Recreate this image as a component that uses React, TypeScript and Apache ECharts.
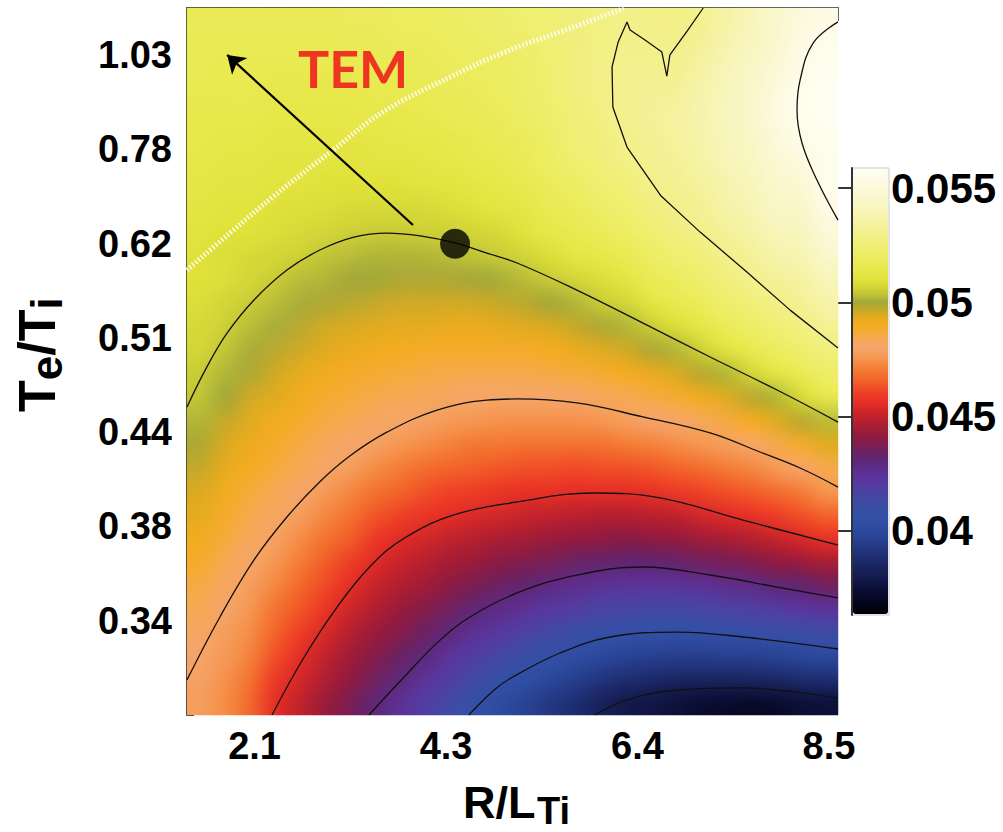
import { useEffect, useRef } from 'react';
import * as echarts from 'echarts';

// Plot coordinates are tick positions: 17 steps across R/L_Ti, 30 steps down Te/Ti.
const X_SPAN = 17;
const Y_SPAN = 30;

const xTickPos = [2, 7, 12, 17];
const xTickText = ['2.1', '4.3', '6.4', '8.5'];
const yTickPos = [2, 6, 10, 14, 18, 22, 26];
const yTickText = ['1.03', '0.78', '0.62', '0.51', '0.44', '0.38', '0.34'];

// Colour bar range and ticks (values in units of 1e-3)
const barMin = 36.32;
const barMax = 55.88;
const barTicks = [40, 45, 50, 55];

// Sampled field, units of 1e-3; 30 rows (top to bottom) x 26 columns (left to right)
const gammaGrid = [
  [51.8, 51.8, 51.8, 51.8, 51.8, 51.8, 51.9, 51.9, 52.0, 52.0, 52.1, 52.2, 52.3, 52.4, 52.5, 52.7, 52.8, 53.0, 52.9, 52.9, 53.1, 53.6, 54.1, 54.6, 55.1, 55.4],
  [51.7, 51.7, 51.7, 51.7, 51.7, 51.7, 51.8, 51.8, 51.9, 51.9, 52.0, 52.1, 52.2, 52.3, 52.5, 52.7, 52.8, 53.0, 53.0, 53.0, 53.3, 53.8, 54.2, 54.7, 55.3, 55.6],
  [51.7, 51.6, 51.6, 51.6, 51.6, 51.6, 51.6, 51.7, 51.7, 51.8, 51.9, 52.0, 52.1, 52.2, 52.4, 52.7, 52.9, 53.1, 53.1, 53.1, 53.5, 54.0, 54.4, 54.9, 55.4, 55.7],
  [51.6, 51.6, 51.6, 51.5, 51.5, 51.5, 51.5, 51.6, 51.6, 51.7, 51.8, 51.9, 52.0, 52.2, 52.4, 52.7, 52.9, 53.1, 53.2, 53.3, 53.7, 54.1, 54.5, 55.1, 55.6, 55.8],
  [51.5, 51.5, 51.5, 51.4, 51.4, 51.4, 51.4, 51.5, 51.5, 51.6, 51.7, 51.8, 51.9, 52.1, 52.3, 52.6, 52.8, 53.1, 53.3, 53.5, 53.8, 54.2, 54.5, 55.2, 55.6, 55.8],
  [51.5, 51.4, 51.4, 51.3, 51.3, 51.3, 51.3, 51.3, 51.4, 51.4, 51.5, 51.6, 51.8, 51.9, 52.2, 52.5, 52.7, 53.0, 53.2, 53.4, 53.7, 54.1, 54.4, 55.0, 55.5, 55.7],
  [51.4, 51.3, 51.3, 51.2, 51.2, 51.2, 51.1, 51.2, 51.2, 51.3, 51.4, 51.5, 51.6, 51.8, 52.1, 52.4, 52.6, 52.9, 53.1, 53.3, 53.6, 54.0, 54.3, 54.8, 55.1, 55.6],
  [51.3, 51.2, 51.2, 51.1, 51.1, 51.0, 51.0, 51.0, 51.0, 51.1, 51.1, 51.3, 51.4, 51.6, 51.9, 52.1, 52.4, 52.6, 53.0, 53.1, 53.4, 53.8, 54.1, 54.6, 54.8, 55.6],
  [51.2, 51.1, 51.1, 51.0, 50.9, 50.9, 50.8, 50.8, 50.8, 50.8, 50.9, 51.0, 51.2, 51.3, 51.7, 51.9, 52.2, 52.4, 52.7, 53.0, 53.2, 53.6, 53.9, 54.4, 54.5, 55.3],
  [51.1, 51.0, 51.0, 50.9, 50.8, 50.7, 50.6, 50.5, 50.5, 50.6, 50.6, 50.7, 50.8, 51.1, 51.4, 51.6, 51.9, 52.1, 52.4, 52.7, 53.0, 53.3, 53.6, 54.1, 54.2, 55.0],
  [51.0, 50.9, 50.8, 50.7, 50.6, 50.4, 50.3, 50.2, 50.2, 50.2, 50.3, 50.4, 50.5, 50.7, 50.9, 51.3, 51.4, 51.7, 52.1, 52.4, 52.6, 53.0, 53.3, 53.7, 53.9, 54.6],
  [51.0, 50.9, 50.7, 50.5, 50.3, 50.2, 50.0, 50.0, 49.9, 49.9, 49.9, 50.0, 50.1, 50.3, 50.5, 50.7, 50.9, 51.2, 51.7, 52.0, 52.3, 52.7, 53.0, 53.3, 53.5, 54.1],
  [50.9, 50.7, 50.5, 50.3, 50.1, 49.9, 49.8, 49.7, 49.6, 49.6, 49.6, 49.6, 49.7, 49.8, 50.0, 50.2, 50.5, 50.7, 51.2, 51.6, 51.9, 52.3, 52.6, 52.9, 53.2, 53.7],
  [50.8, 50.6, 50.3, 50.1, 49.8, 49.6, 49.5, 49.4, 49.3, 49.3, 49.2, 49.2, 49.3, 49.4, 49.5, 49.7, 49.9, 50.2, 50.5, 50.9, 51.3, 51.8, 52.2, 52.5, 52.8, 53.2],
  [50.7, 50.4, 50.1, 49.8, 49.6, 49.4, 49.2, 49.1, 49.0, 48.9, 48.9, 48.9, 48.9, 48.9, 49.0, 49.2, 49.4, 49.6, 49.9, 50.2, 50.6, 51.1, 51.6, 52.0, 52.3, 52.7],
  [50.5, 50.2, 49.9, 49.6, 49.3, 49.1, 48.9, 48.8, 48.7, 48.6, 48.5, 48.5, 48.5, 48.5, 48.6, 48.7, 48.8, 49.0, 49.2, 49.5, 49.8, 50.2, 50.7, 51.2, 51.7, 52.2],
  [50.4, 50.0, 49.6, 49.4, 49.1, 48.8, 48.7, 48.5, 48.4, 48.3, 48.2, 48.1, 48.1, 48.0, 48.1, 48.1, 48.3, 48.4, 48.6, 48.8, 49.1, 49.4, 49.8, 50.2, 50.8, 51.5],
  [50.2, 49.7, 49.4, 49.1, 48.9, 48.6, 48.4, 48.2, 48.1, 47.9, 47.7, 47.6, 47.5, 47.5, 47.5, 47.5, 47.6, 47.8, 48.0, 48.1, 48.3, 48.6, 49.0, 49.4, 49.8, 50.3],
  [49.9, 49.5, 49.2, 48.9, 48.6, 48.3, 48.1, 47.9, 47.6, 47.4, 47.2, 47.0, 47.0, 46.9, 46.9, 46.9, 46.9, 47.1, 47.2, 47.4, 47.6, 47.8, 48.1, 48.5, 48.9, 49.4],
  [49.7, 49.3, 49.0, 48.7, 48.4, 48.1, 47.8, 47.4, 47.1, 46.8, 46.6, 46.5, 46.4, 46.3, 46.3, 46.2, 46.3, 46.3, 46.4, 46.6, 46.8, 47.1, 47.3, 47.7, 48.0, 48.5],
  [49.5, 49.1, 48.7, 48.4, 48.1, 47.7, 47.3, 46.9, 46.6, 46.3, 46.1, 46.0, 45.8, 45.7, 45.7, 45.6, 45.6, 45.6, 45.7, 45.9, 46.1, 46.3, 46.5, 46.8, 47.1, 47.6],
  [49.3, 48.9, 48.5, 48.2, 47.8, 47.3, 46.9, 46.4, 46.1, 45.8, 45.6, 45.4, 45.3, 45.1, 45.0, 44.9, 44.8, 44.8, 44.9, 45.0, 45.3, 45.5, 45.7, 46.0, 46.3, 46.6],
  [49.1, 48.7, 48.3, 47.9, 47.4, 46.9, 46.5, 45.9, 45.5, 45.3, 45.0, 44.8, 44.6, 44.5, 44.3, 44.2, 44.1, 44.0, 44.1, 44.2, 44.4, 44.6, 44.8, 45.1, 45.4, 45.7],
  [48.9, 48.4, 48.1, 47.6, 47.1, 46.5, 46.0, 45.5, 45.1, 44.8, 44.5, 44.3, 44.0, 43.8, 43.6, 43.4, 43.3, 43.2, 43.2, 43.3, 43.5, 43.6, 43.8, 44.1, 44.3, 44.6],
  [48.6, 48.2, 47.8, 47.3, 46.7, 46.2, 45.6, 45.1, 44.7, 44.4, 44.0, 43.7, 43.4, 43.2, 42.9, 42.7, 42.5, 42.4, 42.3, 42.4, 42.5, 42.7, 42.8, 43.1, 43.2, 43.5],
  [48.4, 48.0, 47.6, 46.9, 46.4, 45.8, 45.2, 44.7, 44.3, 43.9, 43.5, 43.1, 42.8, 42.5, 42.1, 41.9, 41.6, 41.5, 41.4, 41.4, 41.5, 41.7, 41.8, 42.0, 42.2, 42.4],
  [48.2, 47.8, 47.4, 46.6, 46.0, 45.4, 44.8, 44.3, 43.9, 43.4, 43.0, 42.5, 42.1, 41.7, 41.4, 41.0, 40.8, 40.6, 40.6, 40.5, 40.6, 40.7, 40.7, 40.9, 41.0, 41.2],
  [48.0, 47.7, 47.2, 46.3, 45.6, 45.0, 44.4, 43.9, 43.4, 43.0, 42.4, 41.9, 41.4, 41.0, 40.6, 40.2, 40.0, 39.7, 39.6, 39.5, 39.5, 39.6, 39.6, 39.7, 39.9, 40.0],
  [47.9, 47.5, 46.9, 45.9, 45.3, 44.7, 44.1, 43.5, 43.0, 42.4, 41.9, 41.3, 40.7, 40.3, 39.9, 39.5, 39.1, 38.8, 38.6, 38.4, 38.4, 38.4, 38.4, 38.5, 38.7, 38.8],
  [47.8, 47.4, 46.7, 45.6, 45.0, 44.3, 43.7, 43.1, 42.5, 41.9, 41.3, 40.7, 40.1, 39.7, 39.2, 38.8, 38.3, 37.9, 37.7, 37.5, 37.3, 37.2, 37.1, 37.2, 37.4, 37.5],
];

// Contour lines, [x, y] in tick positions
const contour0380 = [[10.65, 30], [11.49, 29.36], [12.8, 28.94], [14.52, 28.85], [15.83, 29.02], [17, 29.28]];
const contour0405 = [[7.36, 30], [8.02, 28.94], [8.44, 28.45], [9.74, 27.37], [11.05, 26.69], [12.8, 26.48], [14.52, 26.69], [17, 27.2]];
const contour0430 = [[4.75, 30], [5.67, 28.39], [6.53, 26.94], [7.39, 25.84], [8.62, 24.82], [10.18, 24.06], [11.91, 23.72], [13.66, 24.06], [15.41, 24.57], [17, 25.03]];
const contour0455 = [[2.22, 30], [3.06, 27.54], [3.92, 25.42], [4.78, 23.7], [5.67, 22.5], [6.97, 21.51], [8.62, 20.96], [10.6, 20.58], [12.35, 20.79], [14.52, 21.73], [17, 22.79]];
const contour0480 = [[0, 28.51], [0.86, 25.84], [1.75, 23.42], [2.61, 21.6], [3.47, 20.1], [4.26, 19.0], [5.22, 18.0], [6.53, 17.06], [7.83, 16.64], [8.62, 16.59], [10.18, 16.76], [11.91, 17.35], [13.66, 18.03], [14.96, 18.84], [16.01, 19.52], [17, 20.33]];
const contour0505 = [[0, 16.93], [0.52, 15.23], [1.05, 13.79], [1.75, 12.39], [2.61, 11.12], [3.47, 10.27], [4.36, 9.72], [5.22, 9.55], [6.09, 9.67], [7, 9.97], [7.83, 10.4], [8.62, 10.82], [10.18, 11.97], [11.91, 13.37], [13.66, 14.81], [15.41, 16.21], [17, 17.57]];
const contour0530 = [[13.48, 0], [13.06, 0.98], [12.61, 1.99], [12.53, 2.89], [12.4, 1.87], [11.96, 1.36], [11.57, 0.93], [11.49, 0.59], [11.26, 1.44], [11.1, 2.5], [11.12, 4.2], [11.49, 5.9], [12.38, 7.98], [13.4, 9.51], [14.62, 11.2], [15.75, 12.82], [17, 14.43]];
const contour0555 = [[17, 0.59], [16.35, 1.49], [16.01, 3.06], [15.93, 4.33], [16.06, 5.73], [16.45, 7.3], [17, 9.0]];

// TEM boundary, scan direction and the marked operating point
const temBoundary = [[0, 11.12], [1.12, 9.55], [2.3, 7.94], [3.81, 6.03], [5.12, 4.41], [6.87, 2.93], [8.3, 1.87], [9.74, 1.02], [11.44, 0]];
const arrowTail = [5.9, 9.21];
const arrowTip = [1.05, 1.99];
const operatingPoint = [7, 10];

const rampColors = [
  '#000006', '#04041c', '#0a0c30', '#121848', '#18225a', '#1e2c70', '#243884', '#2a4496', '#2e4ea4', '#3450a6',
  '#3e4ca4', '#4c42a2', '#5a36a0', '#5e2e8e', '#5e2672', '#781e54', '#921a3e', '#ac1e32', '#c8242a', '#e62e26',
  '#ef4226', '#f2642a', '#f47c34', '#f59650', '#f5a66c', '#f5aa48', '#f5ac1e', '#d8aa22', '#a2a83a', '#cacc36',
  '#e0e23a', '#e8e84c', '#ecec5e', '#efef72', '#f2f088', '#f4f29e', '#f7f4b4', '#f9f6c6', '#fbf8d6', '#fdfbe6',
  '#fffff4',
];

const FONT = "'Liberation Sans', Arial, Helvetica, sans-serif";
const AXIS_COLOR = '#333';

function hexToRgb(hex: string) {
  const n = parseInt(hex.slice(1), 16);
  return [(n >> 16) & 255, (n >> 8) & 255, n & 255];
}

// Same linear colour ramp as the visualMap, for the shaded rendering of the cells
function valueToRgb(v: number) {
  const t = Math.min(1, Math.max(0, (v - barMin) / (barMax - barMin))) * (rampColors.length - 1);
  const i = Math.min(rampColors.length - 2, Math.floor(t));
  const f = t - i;
  const a = hexToRgb(rampColors[i]);
  const b = hexToRgb(rampColors[i + 1]);
  return [0, 1, 2].map((k) => Math.round(a[k] + (b[k] - a[k]) * f));
}

// Paints one pixel per cell, then lets the canvas scale it up smoothly to the plot size
function paintField(w: number, h: number) {
  const nRows = gammaGrid.length;
  const nCols = gammaGrid[0].length;
  const small = document.createElement('canvas');
  small.width = nCols;
  small.height = nRows;
  const sctx = small.getContext('2d')!;
  const img = sctx.createImageData(nCols, nRows);
  gammaGrid.forEach((row, r) =>
    row.forEach((v, c) => {
      const rgb = valueToRgb(v);
      const k = (r * nCols + c) * 4;
      img.data[k] = rgb[0];
      img.data[k + 1] = rgb[1];
      img.data[k + 2] = rgb[2];
      img.data[k + 3] = 255;
    }),
  );
  sctx.putImageData(img, 0, 0);
  const big = document.createElement('canvas');
  big.width = w;
  big.height = h;
  const bctx = big.getContext('2d')!;
  bctx.imageSmoothingEnabled = true;
  bctx.imageSmoothingQuality = 'high';
  bctx.drawImage(small, 0, 0, w, h);
  return big.toDataURL('image/png');
}

function buildOption() {
  const nRows = gammaGrid.length;
  const nCols = gammaGrid[0].length;
  const heatData: number[][] = [];
  gammaGrid.forEach((row, r) => row.forEach((v, c) => heatData.push([c, r, v])));

  let fieldImage: string | null = null;
  const renderField = (_params: any, api: any) => {
    const p0 = api.coord([0, 0]);
    const p1 = api.coord([X_SPAN, Y_SPAN]);
    const x = Math.min(p0[0], p1[0]);
    const y = Math.min(p0[1], p1[1]);
    const w = Math.abs(p1[0] - p0[0]);
    const h = Math.abs(p1[1] - p0[1]);
    if (!fieldImage) fieldImage = paintField(Math.round(w), Math.round(h));
    return { type: 'image', style: { image: fieldImage, x, y, width: w, height: h } };
  };

  const contours = [contour0380, contour0405, contour0430, contour0455, contour0480, contour0505];
  const labelStyle = { color: '#000', fontFamily: FONT, fontWeight: 'bold' as const, fontSize: 38 };
  const contourLine = { color: '#111', width: 1.3 };

  const contourSeries = contours.map((pts) => ({
    type: 'line',
    xAxisIndex: 1,
    yAxisIndex: 1,
    data: pts,
    showSymbol: false,
    smooth: 0.4,
    silent: true,
    lineStyle: contourLine,
    z: 3,
  }));

  return {
    animation: false,
    backgroundColor: '#fff',
    grid: [
      { left: 187, top: 8, width: 651, height: 707 },
      { left: 852, top: 168, width: 37, height: 447, show: true, borderColor: '#c8c8c8', borderWidth: 1, backgroundColor: 'transparent' },
    ],
    xAxis: [
      { type: 'category', gridIndex: 0, data: Array.from({ length: nCols }, (_, i) => i), show: false },
      {
        type: 'value', gridIndex: 0, min: 0, max: X_SPAN, position: 'bottom',
        axisLine: { show: false }, axisTick: { show: false }, splitLine: { show: false },
        axisLabel: {
          ...labelStyle, margin: 12, padding: [0, 18, 0, 0],
          customValues: xTickPos,
          formatter: (v: number) => xTickText[xTickPos.indexOf(v)] ?? '',
        },
      },
      {
        type: 'value', gridIndex: 0, min: 0, max: X_SPAN, interval: 1, position: 'top',
        axisLine: { show: true, lineStyle: { color: AXIS_COLOR, width: 2 } },
        axisTick: { show: true, inside: true, length: 7, lineStyle: { color: AXIS_COLOR, width: 2 } },
        axisLabel: { show: false }, splitLine: { show: false },
      },
      {
        type: 'value', gridIndex: 0, min: 0, max: X_SPAN, position: 'top',
        axisLine: { show: false },
        axisTick: { show: true, inside: true, length: 13, customValues: xTickPos, lineStyle: { color: AXIS_COLOR, width: 2 } },
        axisLabel: { show: false }, splitLine: { show: false },
      },
      { type: 'value', gridIndex: 1, show: false, min: 0, max: 1 },
    ],
    yAxis: [
      { type: 'category', gridIndex: 0, data: Array.from({ length: nRows }, (_, i) => i), inverse: true, show: false },
      {
        type: 'value', gridIndex: 0, min: 0, max: Y_SPAN, interval: 1, inverse: true, position: 'left',
        axisLine: { show: true, lineStyle: { color: AXIS_COLOR, width: 2 } },
        axisTick: { show: true, inside: true, length: 7, lineStyle: { color: AXIS_COLOR, width: 2 } },
        axisLabel: { show: false }, splitLine: { show: false },
      },
      {
        type: 'value', gridIndex: 0, min: 0, max: Y_SPAN, inverse: true, position: 'left',
        axisLine: { show: false },
        axisTick: { show: true, inside: true, length: 13, customValues: yTickPos, lineStyle: { color: AXIS_COLOR, width: 2 } },
        axisLabel: {
          ...labelStyle, margin: 15,
          customValues: yTickPos,
          formatter: (v: number) => yTickText[yTickPos.indexOf(v)] ?? '',
        },
        splitLine: { show: false },
      },
      {
        type: 'value', gridIndex: 1, min: barMin, max: barMax, position: 'right',
        axisLine: { show: true, lineStyle: { color: AXIS_COLOR, width: 2 } },
        axisTick: { show: true, inside: true, length: 17, customValues: barTicks, lineStyle: { color: AXIS_COLOR, width: 2 } },
        axisLabel: {
          ...labelStyle, fontSize: 42, margin: 2,
          customValues: barTicks,
          formatter: (v: number) => String(v / 1000),
        },
        splitLine: { show: false },
      },
    ],
    visualMap: {
      type: 'continuous',
      seriesIndex: 0,
      min: barMin,
      max: barMax,
      calculable: false,
      orient: 'vertical',
      left: 853,
      top: 169,
      itemWidth: 35,
      itemHeight: 445,
      padding: 0,
      hoverLink: false,
      inRange: { color: rampColors },
    },
    series: [
      {
        type: 'heatmap',
        xAxisIndex: 0,
        yAxisIndex: 0,
        data: heatData,
        silent: true,
        itemStyle: { borderWidth: 0 },
        emphasis: { disabled: true },
        z: 1,
      },
      {
        type: 'custom',
        xAxisIndex: 1,
        yAxisIndex: 1,
        data: [[0, 0]],
        silent: true,
        renderItem: renderField,
        z: 2,
      },
      ...contourSeries,
      {
        type: 'line', xAxisIndex: 1, yAxisIndex: 1, data: contour0530,
        showSymbol: false, smooth: false, silent: true,
        lineStyle: contourLine, z: 3,
      },
      {
        type: 'line', xAxisIndex: 1, yAxisIndex: 1, data: contour0555,
        showSymbol: false, smooth: 0.4, silent: true,
        lineStyle: contourLine, z: 3,
      },
      {
        type: 'line', xAxisIndex: 1, yAxisIndex: 1, data: temBoundary,
        showSymbol: false, smooth: 0.4, silent: true,
        lineStyle: { color: 'rgba(255,255,255,0.9)', width: 5, type: [1.6, 2.2] }, z: 3,
      },
      {
        type: 'lines', coordinateSystem: 'cartesian2d', xAxisIndex: 1, yAxisIndex: 1,
        symbol: ['none', 'arrow'], symbolSize: 17, silent: true,
        lineStyle: { color: '#000', width: 2.2, opacity: 1, curveness: 0 },
        data: [{ coords: [arrowTail, arrowTip] }],
        z: 4,
      },
      {
        type: 'scatter', xAxisIndex: 1, yAxisIndex: 1, data: [operatingPoint],
        symbol: 'circle', symbolSize: 30, silent: true,
        itemStyle: { color: '#000' }, z: 5,
      },
    ],
    graphic: [
      {
        type: 'text', x: 298, y: 68, z: 10,
        style: { text: 'TEM', fill: '#ee3524', font: "bold 52px Lato, 'Open Sans', sans-serif", align: 'left', verticalAlign: 'middle' },
      },
      {
        type: 'text', x: 463, y: 802,
        style: { text: 'R/L', fill: '#000', font: `bold 45px ${FONT}`, align: 'left', verticalAlign: 'middle' },
      },
      {
        type: 'text', x: 537, y: 811,
        style: { text: 'Ti', fill: '#000', font: `bold 38px ${FONT}`, align: 'left', verticalAlign: 'middle' },
      },
      {
        type: 'group', x: 37, y: 412, rotation: Math.PI / 2,
        children: [
          { type: 'text', x: 0, y: 0, style: { text: 'T', fill: '#000', font: `bold 52px ${FONT}`, align: 'left', verticalAlign: 'middle' } },
          { type: 'text', x: 31.8, y: 9, style: { text: 'e', fill: '#000', font: `bold 44px ${FONT}`, align: 'left', verticalAlign: 'middle' } },
          { type: 'text', x: 56.3, y: 0, style: { text: '/T', fill: '#000', font: `bold 52px ${FONT}`, align: 'left', verticalAlign: 'middle' } },
          { type: 'text', x: 102.5, y: 9, style: { text: 'i', fill: '#000', font: `bold 44px ${FONT}`, align: 'left', verticalAlign: 'middle' } },
        ],
      },
    ],
  };
}

export default function App() {
  const ref = useRef<HTMLDivElement>(null);

  useEffect(() => {
    if (!ref.current) return;
    const chart = echarts.init(ref.current, null, { renderer: 'svg' });
    chart.setOption(buildOption() as any);
    return () => chart.dispose();
  }, []);

  return (
    <div
      ref={ref}
      style={{ position: 'fixed', left: 0, top: 0, width: 1003, height: 832, background: '#fff' }}
    />
  );
}
